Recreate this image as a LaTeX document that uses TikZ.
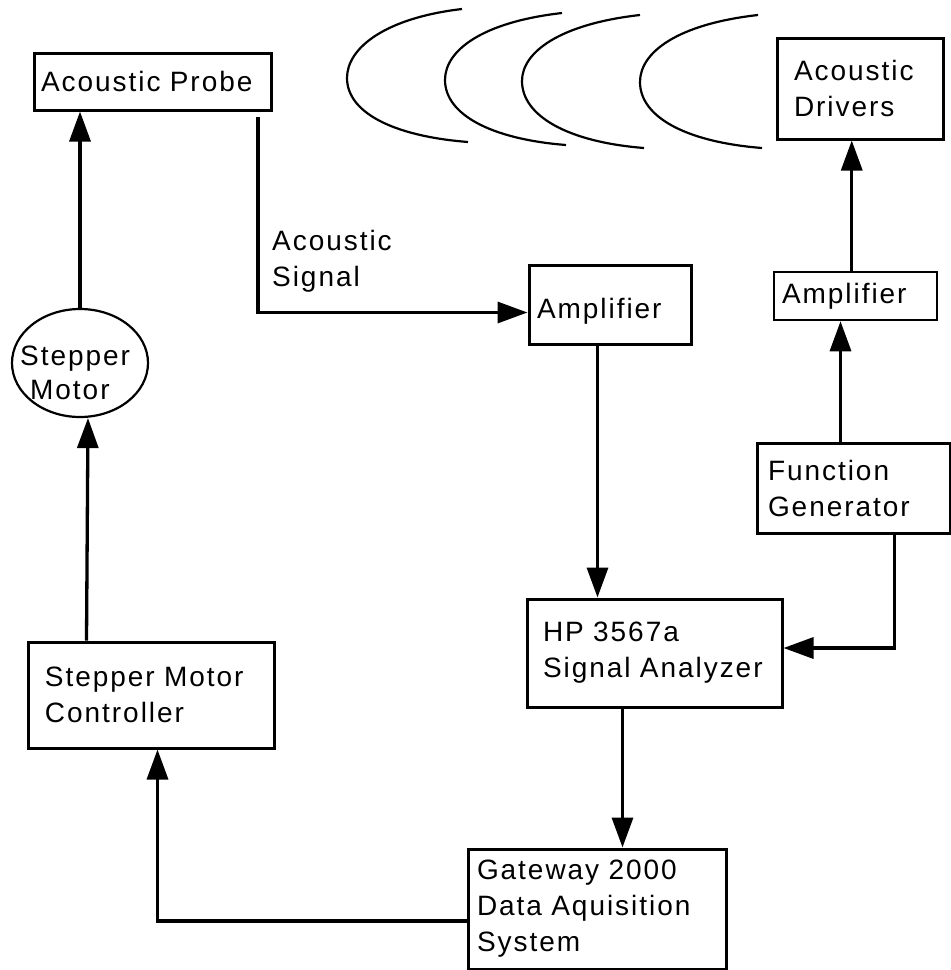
\documentclass[tikz,border=0pt]{standalone}
\usepackage{fontspec}
\setmainfont{Liberation Sans}[LetterSpace=7]
\usetikzlibrary{arrows.meta,calc,shapes.geometric}
\begin{document}
\begin{tikzpicture}[x=1pt,y=-1pt,
  box/.style={draw, line width=3pt, rectangle, align=left, inner ysep=0pt, font=\fontsize{28}{36}\selectfont},
  lbl/.style={anchor=base west, inner sep=0pt, font=\fontsize{28}{36}\selectfont},
  arr/.style={line width=3.3pt, -{Triangle[length=30pt,width=21pt]}},
  wave/.style={line width=2.2pt}]
\useasboundingbox (0,0) rectangle (951,970);

% boxes
\node[box, minimum width=237pt, minimum height=57pt, text width=223pt, inner xsep=7pt] (probe) at (152.5,81.5) {Acoustic~Probe};
\node[box, minimum width=166pt, minimum height=101pt, text width=132pt, inner xsep=17pt] (drivers) at (860,88.5) {Acoustic\\Drivers};
\node[box, minimum width=162pt, minimum height=79pt, text width=146pt, inner xsep=8pt, text height=27pt, text depth=0pt] (amp1) at (610,304.5) {Amplifier};
\node[box, line width=2.5pt, minimum width=163pt, minimum height=48pt, text width=147pt, inner xsep=8pt] (amp2) at (855.5,296) {Amplifier};
\node[box, minimum width=193pt, minimum height=90pt, text width=171pt, inner xsep=11pt] (fg) at (853.5,488) {Function\\Generator};
\node[box, minimum width=255pt, minimum height=108pt, text width=223pt, inner xsep=16pt] (analyzer) at (654.5,653) {HP~3567a\\Signal~Analyzer};
\node[box, minimum width=246pt, minimum height=106pt, text width=212pt, inner xsep=17pt] (ctrl) at (151,695) {Stepper~Motor\\Controller};
\node[box, minimum width=258pt, minimum height=120pt, text width=240pt, inner xsep=9pt] (gateway) at (597,909) {Gateway~2000\\Data~Aquisition\\System};

% stepper motor ellipse
\node[draw, ellipse, line width=2.2pt, minimum width=136pt, minimum height=108pt, inner sep=0pt] (sm) at (80,363) {};
\node[lbl] (smt1) at (20,365) {Stepper};
\node[lbl] (smt2) at (30,399) {Motor};

% acoustic signal label
\node[lbl] (as1) at (272,250) {Acoustic};
\node[lbl] (as2) at (272,286) {Signal};

% sound waves
\draw[wave] (462,9) .. controls (385,18) and (347,48) .. (347,78) .. controls (347,112) and (392,136) .. (468,142);
\draw[wave] (562,13) .. controls (483,22) and (445,50) .. (445,80) .. controls (445,114) and (490,139) .. (566,145);
\draw[wave] (640,15) .. controls (560,24) and (522,52) .. (522,81) .. controls (522,116) and (568,142) .. (644,148);
\draw[wave] (758,15) .. controls (678,24) and (640,52) .. (640,82) .. controls (640,117) and (686,142) .. (762,148);

% connectors
\draw[arr] (sm.north) -- (sm.north |- probe.south);
\draw[arr] ($(ctrl.north west)+(60,0)$) coordinate (c1) -- ($(sm.south)+(8,0)$);
\coordinate (ps) at (258,117);
\draw[arr] (ps) |- ($(amp1.west)+(0,8)$);
\draw[arr] ($(amp1.south west)+(70,0)$) coordinate (a1) -- (a1 |- analyzer.north);
\draw[arr] ($(analyzer.south west)+(97,0)$) coordinate (a2) -- (a2 |- gateway.north);
\draw[arr] ($(gateway.west)+(0,12)$) -| ($(ctrl.south west)+(131,0)$);
\draw[arr] ($(fg.south west)+(139,0)$) |- ($(analyzer.east)+(0,-5)$);
\draw[arr] ($(fg.north west)+(85,0)$) coordinate (f1) -- (f1 |- amp2.south);
\draw[arr] ($(amp2.north west)+(79,0)$) coordinate (m1) -- (m1 |- drivers.south);
\end{tikzpicture}
\end{document}
